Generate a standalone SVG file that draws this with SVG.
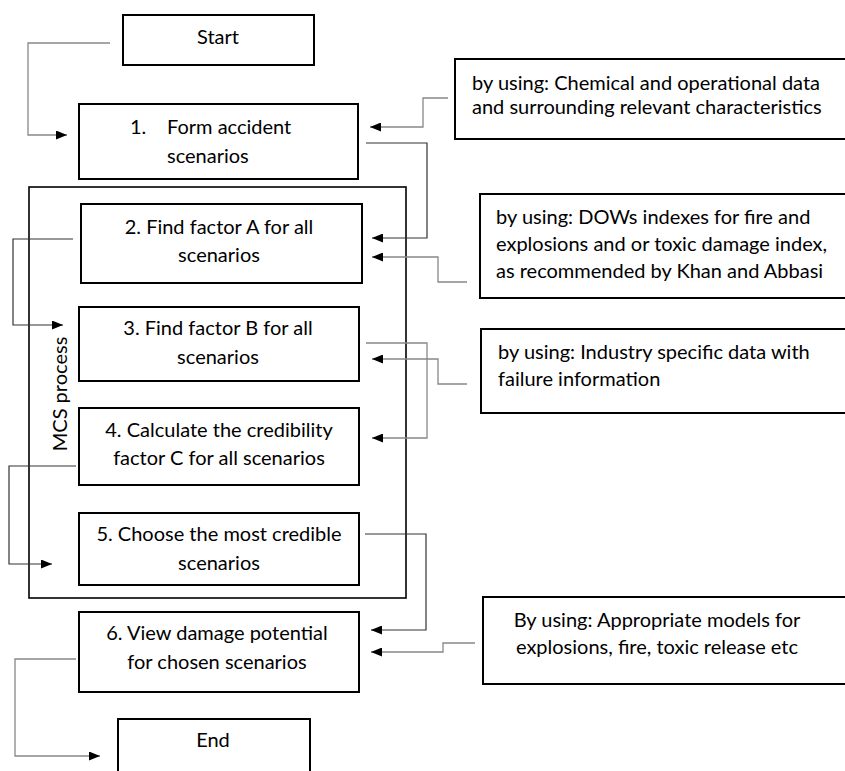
<svg xmlns="http://www.w3.org/2000/svg" width="845" height="771" viewBox="0 0 845 771">
<defs>
<style>
.box{fill:#fff;stroke:#000;stroke-width:2}
.frame{fill:none;stroke:#000;stroke-width:1.6}
.t{font-family:Lato,"Liberation Sans",sans-serif;font-size:20px;fill:#000}
.c{text-anchor:middle}
.g{fill:none;stroke:#888;stroke-width:1.3}
.k{fill:none;stroke:#333;stroke-width:1.2}
</style>
<marker id="ah" markerUnits="userSpaceOnUse" markerWidth="11" markerHeight="9" refX="11" refY="4.5" orient="auto">
<path d="M0,0 L11,4.5 L0,9 z" fill="#000"/>
</marker>
</defs>
<rect width="845" height="771" fill="#fff"/>
<g id="mcs">
<rect class="frame" x="29" y="187" width="377" height="411"/>
<text class="t c" transform="translate(67,394) rotate(-90)">MCS process</text>
</g>
<g id="connectors">
<path class="g" d="M110,43 H28 V135 H67" marker-end="url(#ah)"/>
<path class="g" d="M448,98 H423 V127 H370" marker-end="url(#ah)"/>
<path class="k" d="M366,143 H427 V238 H372" marker-end="url(#ah)"/>
<path class="g" d="M467,282 H438 V257 H372" marker-end="url(#ah)"/>
<path class="k" d="M73,239 H13 V325 H63" marker-end="url(#ah)"/>
<path class="g" d="M366,343 H427 V438 H372" marker-end="url(#ah)"/>
<path class="g" d="M467,384 H438 V359 H372" marker-end="url(#ah)"/>
<path class="k" d="M76,466 H9 V564 H52" marker-end="url(#ah)"/>
<path class="k" d="M365,534 H426 V630 H371" marker-end="url(#ah)"/>
<path class="g" d="M475,643 H443 V652 H371" marker-end="url(#ah)"/>
<path class="g" d="M76,659 H15 V756 H100" marker-end="url(#ah)"/>
</g>
<g id="start">
<rect class="box" x="123" y="15" width="191" height="50"/>
<text class="t c" x="218" y="44">Start</text>
</g>
<g id="step1">
<rect class="box" x="79" y="104" width="279" height="75"/>
<text class="t" x="130" y="134">1.</text>
<text class="t" x="167" y="134">Form accident</text>
<text class="t" x="167" y="163">scenarios</text>
</g>
<g id="step2">
<rect class="box" x="81" y="204" width="281" height="79"/>
<text class="t c" x="219" y="234">2. Find factor A for all</text>
<text class="t c" x="219" y="262">scenarios</text>
</g>
<g id="step3">
<rect class="box" x="79" y="307" width="280" height="74"/>
<text class="t c" x="218" y="335">3.  Find factor B for all</text>
<text class="t c" x="218" y="364">scenarios</text>
</g>
<g id="step4">
<rect class="box" x="79" y="408" width="280" height="77"/>
<text class="t c" x="219" y="437">4. Calculate the credibility</text>
<text class="t c" x="219" y="465">factor C for all scenarios</text>
</g>
<g id="step5">
<rect class="box" x="79" y="513" width="280" height="72"/>
<text class="t c" x="219" y="541">5. Choose the most credible</text>
<text class="t c" x="219" y="570">scenarios</text>
</g>
<g id="step6">
<rect class="box" x="79" y="612" width="280" height="80"/>
<text class="t c" x="217" y="640">6. View damage potential</text>
<text class="t c" x="217" y="669">for chosen scenarios</text>
</g>
<g id="end">
<rect class="box" x="118" y="719" width="192" height="60"/>
<text class="t c" x="213" y="747">End</text>
</g>
<g id="note1">
<rect class="box" x="455" y="59" width="400" height="80"/>
<text class="t" x="472" y="90">by using: Chemical and operational data</text>
<text class="t" x="472" y="114">and surrounding relevant characteristics</text>
</g>
<g id="note2">
<rect class="box" x="480" y="194" width="380" height="104"/>
<text class="t" x="496" y="224">by using: DOWs indexes for fire and</text>
<text class="t" x="496" y="251">explosions and or toxic damage index,</text>
<text class="t" x="496" y="278">as recommended by Khan and Abbasi</text>
</g>
<g id="note3">
<rect class="box" x="481" y="329" width="380" height="84"/>
<text class="t" x="498" y="359">by using: Industry specific data with</text>
<text class="t" x="498" y="386">failure information</text>
</g>
<g id="note4">
<rect class="box" x="483" y="597" width="380" height="87"/>
<text class="t c" x="657" y="627">By using: Appropriate models for</text>
<text class="t c" x="657" y="654">explosions, fire, toxic release etc</text>
</g>
</svg>
